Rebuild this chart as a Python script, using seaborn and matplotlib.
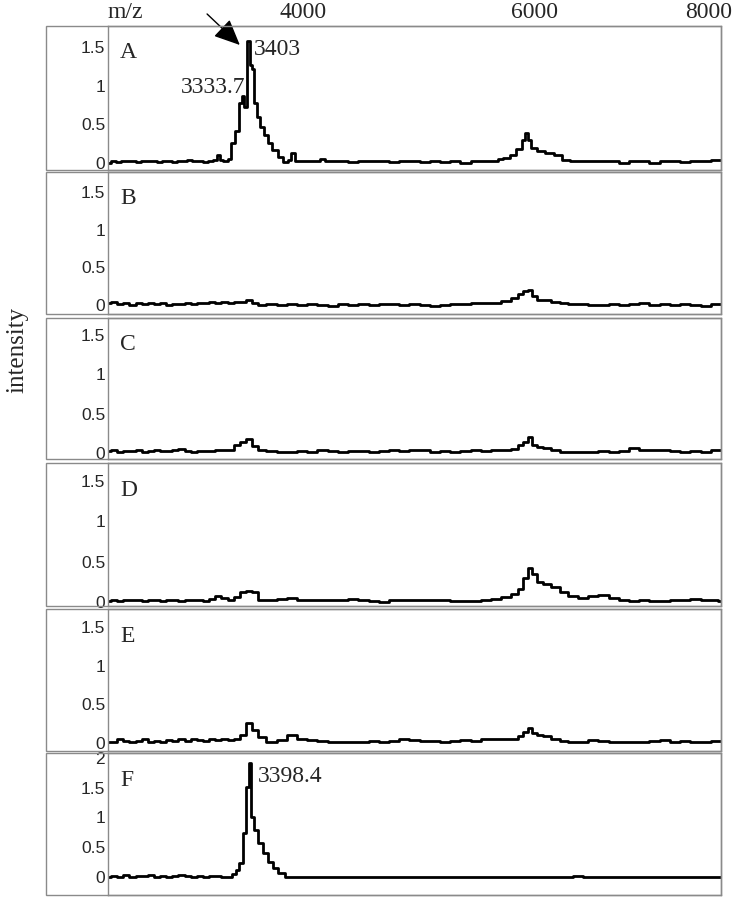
import matplotlib
matplotlib.use('Agg')
import matplotlib.pyplot as plt
import seaborn as sns
from matplotlib.patches import Rectangle

# ---- data (m/z vs intensity) ----
mz_a = [2000, 2050, 2100, 2150, 2200, 2250, 2300, 2350, 2400, 2450, 2500,
        2550, 2600, 2650, 2700, 2750, 2800, 2850, 2900, 2950, 3000, 3050,
        3080, 3110, 3150, 3190, 3225, 3265, 3295, 3320, 3342, 3370, 3400,
        3420, 3440, 3470, 3505, 3540, 3585, 3635, 3685, 3735, 3780, 3810,
        3850, 3900, 3950, 4000, 4050, 4100, 4150, 4200,
        4300, 4400, 4500, 4600, 4700, 4800, 4900, 5000, 5100, 5200, 5300,
        5400, 5500, 5600, 5700, 5800,
        5840, 5900, 5960, 6030, 6065, 6100, 6130, 6160, 6230, 6330, 6400,
        6490, 6550,
        6650, 6750, 6850, 6950, 7050, 7150, 7250, 7350, 7450, 7550, 7650,
        7750, 7850, 7950, 8000]
int_a = [0.00, 0.02, 0.01, 0.03, 0.02, 0.03, 0.01, 0.02, 0.03, 0.02, 0.01,
         0.02, 0.02, 0.01, 0.03, 0.02, 0.04, 0.02, 0.03, 0.01, 0.02, 0.04,
         0.10, 0.04, 0.02, 0.05, 0.26, 0.42, 0.78, 0.86, 0.72, 1.57, 1.27,
         1.22, 0.78, 0.60, 0.47, 0.36, 0.26, 0.17, 0.08, 0.01, 0.04, 0.13,
         0.03, 0.02, 0.02, 0.03, 0.02, 0.05, 0.03, 0.02,
         0.02, 0.01, 0.02, 0.02, 0.02, 0.01, 0.02, 0.02, 0.01, 0.03, 0.01,
         0.02, 0.00, 0.02, 0.02, 0.03,
         0.05, 0.07, 0.10, 0.18, 0.30, 0.39, 0.30, 0.19, 0.15, 0.13, 0.10,
         0.04, 0.02,
         0.02, 0.02, 0.02, 0.02, 0.00, 0.02, 0.02, 0.00, 0.02, 0.02, 0.01,
         0.02, 0.02, 0.04, 0.04]

# shared m/z grid for spectra B-E
mz_grid = [2000, 2060, 2120, 2180, 2240, 2300, 2360, 2420, 2480, 2540, 2600,
           2660, 2720, 2780, 2840, 2900, 2960, 3020, 3080, 3140, 3200, 3260,
           3320, 3380, 3440, 3500,
           3600, 3700, 3800, 3900, 4000, 4100, 4200, 4300, 4400, 4500, 4600,
           4700, 4800, 4900, 5000, 5100, 5200, 5300, 5400, 5500, 5600, 5700,
           5800, 5900,
           5980, 6040, 6090, 6130, 6170, 6220, 6300, 6380, 6460, 6550,
           6650, 6750, 6850, 6950, 7050, 7150, 7250, 7350, 7450, 7550, 7650,
           7750, 7850, 7950, 8000]
int_b = [0.03, 0.04, 0.01, 0.03, 0.00, 0.02, 0.01, 0.02, 0.01, 0.02, 0.00,
         0.01, 0.01, 0.02, 0.01, 0.02, 0.03, 0.04, 0.03, 0.04, 0.02, 0.04,
         0.04, 0.06, 0.03, 0.00,
         0.01, 0.00, 0.01, 0.00, 0.01, 0.00, -0.01, 0.01, 0.00, 0.01, 0.00,
         0.01, 0.01, 0.00, 0.01, 0.00, -0.01, 0.00, 0.01, 0.01, 0.02, 0.02,
         0.03, 0.05,
         0.09, 0.14, 0.18, 0.20, 0.12, 0.07, 0.06, 0.04, 0.02, 0.01,
         0.01, 0.00, 0.00, 0.01, 0.00, 0.01, 0.02, 0.00, 0.01, 0.00, 0.01,
         0.00, -0.01, 0.01, 0.01]
int_c = [0.02, 0.03, 0.01, 0.02, 0.02, 0.03, 0.01, 0.02, 0.03, 0.02, 0.02,
         0.03, 0.05, 0.02, 0.01, 0.02, 0.02, 0.02, 0.03, 0.03, 0.04, 0.10,
         0.14, 0.17, 0.09, 0.04,
         0.02, 0.01, 0.01, 0.02, 0.01, 0.03, 0.02, 0.01, 0.02, 0.02, 0.01,
         0.02, 0.03, 0.02, 0.04, 0.03, 0.01, 0.02, 0.01, 0.02, 0.03, 0.02,
         0.04, 0.04,
         0.05, 0.10, 0.14, 0.20, 0.10, 0.07, 0.06, 0.04, 0.01, 0.01,
         0.01, 0.01, 0.02, 0.01, 0.02, 0.06, 0.04, 0.03, 0.03, 0.02, 0.01,
         0.02, 0.01, 0.03, 0.03]
int_d = [0.01, 0.02, 0.01, 0.02, 0.03, 0.02, 0.01, 0.03, 0.02, 0.01, 0.02,
         0.03, 0.01, 0.02, 0.03, 0.02, 0.01, 0.04, 0.07, 0.05, 0.02, 0.06,
         0.12, 0.14, 0.12, 0.03,
         0.02, 0.04, 0.05, 0.02, 0.03, 0.02, 0.02, 0.03, 0.04, 0.02, 0.01,
         0.00, 0.02, 0.03, 0.03, 0.03, 0.02, 0.03, 0.01, 0.01, 0.01, 0.03,
         0.04, 0.06,
         0.10, 0.16, 0.30, 0.42, 0.34, 0.25, 0.22, 0.18, 0.12, 0.07,
         0.05, 0.07, 0.09, 0.05, 0.02, 0.01, 0.02, 0.01, 0.01, 0.02, 0.03,
         0.04, 0.02, 0.02, 0.01]
int_e = [0.01, 0.02, 0.05, 0.03, 0.02, 0.03, 0.05, 0.02, 0.03, 0.02, 0.04,
         0.03, 0.06, 0.03, 0.05, 0.04, 0.03, 0.05, 0.04, 0.06, 0.04, 0.05,
         0.10, 0.26, 0.17, 0.08,
         0.02, 0.04, 0.10, 0.05, 0.04, 0.03, 0.02, 0.01, 0.02, 0.02, 0.03,
         0.02, 0.03, 0.05, 0.04, 0.03, 0.03, 0.02, 0.03, 0.04, 0.03, 0.05,
         0.06, 0.06,
         0.06, 0.09, 0.14, 0.19, 0.13, 0.11, 0.09, 0.06, 0.03, 0.02,
         0.02, 0.04, 0.03, 0.02, 0.02, 0.01, 0.02, 0.03, 0.04, 0.02, 0.03,
         0.01, 0.02, 0.03, 0.03]

mz_f = [2000, 2060, 2120, 2180, 2240, 2300, 2360, 2420, 2480, 2540, 2600,
        2660, 2720, 2780, 2840, 2900, 2960, 3020, 3080, 3140,
        3195, 3240, 3265, 3300, 3340, 3362, 3390, 3410, 3440, 3490, 3540,
        3590, 3635, 3700, 3760, 3820, 3900,
        4000, 4100, 4200, 4300, 4400, 4500, 4600, 4700, 4800, 4900, 5000,
        5100, 5200, 5300, 5400, 5500, 5600, 5700, 5800, 5900, 6000,
        6100, 6200, 6300, 6400, 6500, 6600, 6700, 6800, 6900, 7000,
        7100, 7200, 7300, 7400, 7500, 7600, 7700, 7800, 7900, 8000]
int_f = [0.01, 0.02, 0.01, 0.03, 0.01, 0.02, 0.02, 0.03, 0.01, 0.02, 0.01,
         0.02, 0.03, 0.02, 0.01, 0.02, 0.01, 0.02, 0.02, 0.01,
         0.01, 0.05, 0.12, 0.23, 0.74, 1.51, 1.92, 1.00, 0.79, 0.57, 0.40,
         0.25, 0.15, 0.07, 0.01, 0.00, 0.00,
         0.00, 0.01, 0.00, 0.00, 0.01, 0.00, 0.00, 0.00, 0.01, 0.00, 0.00,
         0.00, 0.01, 0.00, 0.00, 0.00, 0.00, 0.01, 0.00, 0.00, 0.00,
         0.00, 0.00, 0.01, 0.00, 0.00, 0.02, 0.00, 0.01, 0.00, 0.00,
         0.01, 0.00, 0.00, 0.00, 0.00, 0.01, 0.00, 0.00, 0.00, 0.00]

panel_letters = ['A', 'B', 'C', 'D', 'E', 'F']
top_ticks = [4000, 6000, 8000]
top_labels = ['4000', '6000', '8000']

spectra = [(mz_a, int_a), (mz_grid, int_b), (mz_grid, int_c),
           (mz_grid, int_d), (mz_grid, int_e), (mz_f, int_f)]
for x, y in spectra:
    assert len(x) == len(y)

# ---- layout (pixels of a 738x899 canvas) ----
W, H = 738, 899
panel_px = [(26, 170), (172, 314), (318, 459), (463, 606), (609, 751), (753, 895)]
ylims = [(-0.09, 1.77), (-0.12, 1.77), (-0.08, 1.72), (-0.05, 1.72),
         (-0.10, 1.73), (-0.30, 2.08)]
plot_left, plot_right, frame_left = 108, 721, 46

sns.set_style('white')
plt.rcParams['font.family'] = ['Liberation Serif', 'DejaVu Serif']
serif = 'Liberation Serif'
sans = 'Liberation Sans'
frame_col = '#8a8a8a'

fig = plt.figure(figsize=(W / 100, H / 100), dpi=100)

axes = []
for i, ((top, bot), (x, y)) in enumerate(zip(panel_px, spectra)):
    ax = fig.add_axes([plot_left / W, 1 - bot / H,
                       (plot_right - plot_left) / W, (bot - top) / H])
    sns.lineplot(x=x, y=y, ax=ax, color='black', lw=2.0,
                 drawstyle='steps-mid', estimator=None, sort=False)
    ax.set_xlim(2000, 8000)
    ax.set_ylim(*ylims[i])
    ax.set_xlabel('')
    ax.set_ylabel('')
    ax.set_xticks([])
    if i == 5:
        yt = [0, 0.5, 1, 1.5, 2]
        ytl = ['0', '0.5', '1', '1.5', '2']
    else:
        yt = [0, 0.5, 1, 1.5]
        ytl = ['0', '0.5', '1', '1.5']
    ax.set_yticks(yt)
    ax.set_yticklabels(ytl, fontfamily=sans, fontsize=12.5)
    ax.tick_params(axis='y', length=0, pad=2)
    for s in ax.spines.values():
        s.set_color(frame_col)
        s.set_linewidth(1.0)
    # outer frame around tick label area + plot
    fig.add_artist(Rectangle((frame_left / W, 1 - bot / H),
                             (plot_right - frame_left) / W, (bot - top) / H,
                             transform=fig.transFigure, fill=False,
                             ec=frame_col, lw=1.0))
    ax.text(0.02, 1 - 27 / (bot - top), panel_letters[i], transform=ax.transAxes,
            ha='left', va='center', fontfamily=serif, fontsize=17)
    axes.append(ax)

ax_a, ax_f = axes[0], axes[5]

# top m/z scale
for val, lab, dx, ha in zip(top_ticks, top_labels, [-7, 13, 8], ['center', 'center', 'right']):
    ax_a.annotate(lab, xy=(val, 1), xycoords=('data', 'axes fraction'),
                  xytext=(dx, 2), textcoords='offset points', ha=ha, va='bottom',
                  fontfamily=serif, fontsize=17, annotation_clip=False)
ax_a.annotate('m/z', xy=(0, 1), xycoords='axes fraction', xytext=(0, 2),
              textcoords='offset points', ha='left', va='bottom',
              fontfamily=serif, fontsize=17, annotation_clip=False)

# peak annotations
ax_a.text(3430, 1.47, '3403', ha='left', va='center', fontfamily=serif, fontsize=17)
ax_a.text(3345, 0.98, '3333.7', ha='right', va='center', fontfamily=serif, fontsize=17)
ax_a.annotate('', xy=(3310, 1.50), xytext=(2950, 1.95),
              arrowprops=dict(arrowstyle='-|>,head_length=1.0,head_width=0.45',
                              color='black', lw=1.0, mutation_scale=16),
              annotation_clip=False)
ax_f.text(3468, 1.68, '3398.4', ha='left', va='center', fontfamily=serif, fontsize=17)

fig.text(17 / W, 1 - 350 / H, 'intensity', rotation=90, ha='center', va='center',
         fontfamily=serif, fontsize=18)

fig.savefig('out.png', dpi=100)
plt.close(fig)
